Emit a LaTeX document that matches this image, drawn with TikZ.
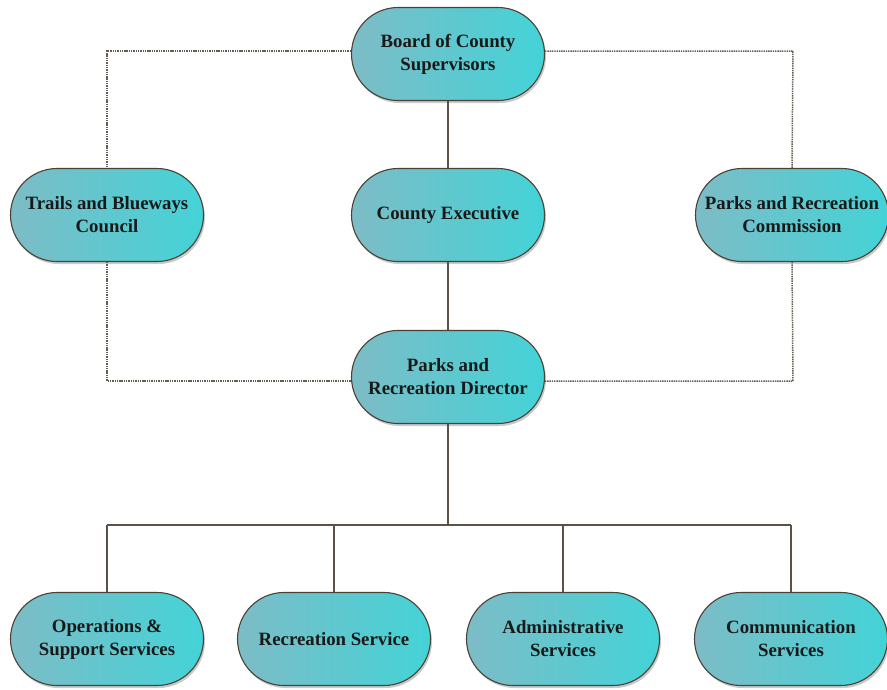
\documentclass[tikz,border=0pt]{standalone}
\usepackage{fontspec}
\setmainfont{Liberation Serif}
\usetikzlibrary{shapes.misc,shadows}
\definecolor{fillL}{HTML}{7DBCC6}
\definecolor{fillR}{HTML}{43D3D7}
\definecolor{edgec}{HTML}{4B4236}
\definecolor{linec}{HTML}{5A5147}
\definecolor{dotc}{HTML}{655C52}
\tikzset{
  unit/.style={rounded rectangle, draw=edgec, line width=1.1pt,
    left color=fillL, right color=fillR, shading angle=90,
    minimum width=197pt, minimum height=93pt, inner sep=2pt,
    align=center, font=\bfseries\fontsize{18.8}{23}\selectfont, text=black!90,
    drop shadow={shadow xshift=1.5pt, shadow yshift=-2.5pt, opacity=0.35, fill=black!60}},
  solidlink/.style={draw=linec, line width=1.3pt},
  dotlink/.style={draw=dotc, line width=1.5pt, dash pattern=on 1.4pt off 0.9pt}
}
\begin{document}
\begin{tikzpicture}[x=1pt,y=-1pt]
\useasboundingbox (0,0) rectangle (887,689);
\coordinate (tl) at (107,51);
\coordinate (tr) at (793,51);
\coordinate (bl) at (107,381);
\coordinate (br) at (793,381);
\coordinate (bus) at (448,525);
\coordinate (b1) at (107,525);
\coordinate (b2) at (334,525);
\coordinate (b3) at (563,525);
\coordinate (b4) at (791,525);

\node[unit] (board) at (448,54) {Board of County\\Supervisors};
\node[unit] (trails) at (107,215) {Trails and Blueways\\Council};
\node[unit] (exec) at (448,215) {County Executive};
\node[unit] (comm) at (792,215) {Parks and Recreation\\Commission};
\node[unit] (dir) at (448,377) {Parks and\\Recreation Director};
\node[unit] (ops) at (107,639) {Operations \&\\Support Services};
\node[unit] (rec) at (334,639) {Recreation Service};
\node[unit] (adm) at (563,639) {Administrative\\Services};
\node[unit] (com) at (791,639) {Communication\\Services};

\path[dotlink] (board.west |- tl) -- (tl) -- (trails.north);
\path[dotlink] (board.east |- tr) -- (tr) -- (comm.north);
\path[dotlink] (trails.south) -- (bl) -- (dir.west |- bl);
\path[dotlink] (comm.south) -- (br) -- (dir.east |- br);
\path[solidlink] (board.south) -- (exec.north);
\path[solidlink] (exec.south) -- (dir.north);
\path[solidlink] (dir.south) -- (bus);
\path[solidlink] (b1) -- (b4);
\path[solidlink] (b1) -- (ops.north);
\path[solidlink] (b2) -- (rec.north);
\path[solidlink] (b3) -- (adm.north);
\path[solidlink] (b4) -- (com.north);
\end{tikzpicture}
\end{document}
